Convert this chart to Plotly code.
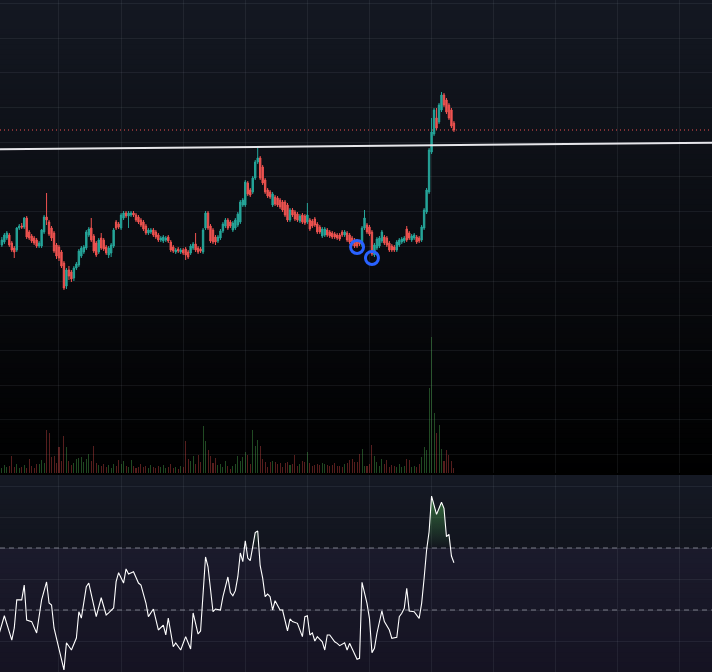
import plotly.graph_objects as go

# ---------------- data ----------------
bar_index = list(range(2, 185))  # 183 bars

open_ = [
    255, 258, 262, 265, 257, 252, 250, 272, 274, 273,
    282, 268, 264, 262, 260, 254, 254, 268, 283, 278,
    272, 267, 255, 253, 248, 237, 214, 230, 228, 222,
    232, 235, 244, 248, 252, 265, 272, 264, 257, 248,
    262, 260, 253, 245, 247, 254, 278, 276, 272, 282,
    287, 284, 285, 287, 285, 283, 280, 278, 274, 267,
    268, 270, 268, 265, 260, 259, 260, 263, 258, 253,
    248, 251, 248, 250, 251, 248, 247, 252, 256, 252,
    251, 248, 272, 287, 274, 270, 263, 259, 262, 269,
    274, 280, 278, 270, 272, 275, 278, 295, 295, 317,
    310, 308, 322, 338, 342, 333, 320, 310, 308, 295,
    303, 302, 300, 298, 298, 295, 280, 290, 288, 286,
    279, 285, 284, 278, 280, 279, 281, 276, 273, 264,
    265, 270, 268, 267, 266, 265, 265, 268, 265, 267,
    265, 262, 260, 259, 258, 255, 272, 275, 273, 268,
    245, 252, 254, 259, 263, 262, 257, 254, 253, 250,
    255, 258, 259, 271, 267, 260, 262, 263, 262, 260,
    272, 288, 308, 348, 366, 382, 378, 390, 405, 400,
    395, 390, 377,
]
high = [
    263, 267, 269, 267, 259, 254, 273, 276, 277, 283,
    284, 270, 266, 264, 262, 259, 271, 285, 307, 280,
    274, 269, 257, 255, 250, 239, 232, 234, 230, 234,
    238, 251, 254, 255, 270, 273, 282, 266, 259, 262,
    267, 262, 255, 254, 257, 272, 280, 278, 287, 289,
    289, 289, 289, 289, 287, 285, 282, 280, 276, 272,
    272, 272, 270, 267, 264, 265, 264, 265, 260, 255,
    252, 253, 252, 252, 253, 250, 256, 258, 267, 254,
    253, 272, 289, 289, 276, 272, 265, 265, 271, 278,
    282, 282, 280, 279, 282, 288, 300, 302, 320, 319,
    312, 324, 340, 354, 344, 335, 322, 312, 310, 308,
    305, 304, 302, 300, 300, 297, 292, 292, 290, 288,
    286, 287, 286, 297, 282, 281, 283, 278, 275, 273,
    273, 272, 270, 269, 268, 267, 267, 270, 270, 269,
    267, 264, 262, 261, 260, 274, 290, 277, 275, 270,
    257, 263, 264, 270, 265, 264, 259, 256, 255, 260,
    262, 263, 264, 274, 269, 266, 267, 265, 264, 275,
    292, 312, 352, 382, 392, 392, 397, 408, 407, 402,
    397, 392, 379,
]
low = [
    253, 256, 260, 253, 248, 242, 248, 270, 271, 271,
    261, 260, 257, 255, 252, 252, 252, 266, 275, 264,
    259, 247, 241, 239, 232, 210, 211, 220, 218, 219,
    230, 233, 242, 246, 250, 263, 258, 247, 243, 246,
    250, 249, 245, 242, 243, 252, 270, 271, 270, 280,
    282, 272, 283, 283, 278, 276, 273, 269, 265, 265,
    266, 263, 261, 258, 258, 257, 258, 257, 248, 247,
    246, 247, 246, 245, 240, 241, 245, 250, 248, 246,
    247, 246, 270, 270, 257, 256, 255, 257, 260, 267,
    272, 270, 272, 268, 270, 273, 276, 293, 293, 304,
    303, 306, 320, 336, 320, 315, 306, 302, 301, 293,
    294, 293, 291, 288, 283, 278, 278, 283, 279, 278,
    277, 276, 275, 276, 269, 272, 273, 266, 266, 262,
    263, 263, 262, 261, 261, 260, 259, 263, 263, 258,
    256, 254, 252, 252, 254, 253, 270, 266, 264, 244,
    243, 250, 252, 257, 255, 253, 248, 248, 248, 248,
    253, 256, 257, 258, 260, 258, 260, 256, 257, 258,
    270, 286, 306, 346, 364, 370, 376, 388, 393, 386,
    380, 372, 368,
]
close = [
    260, 265, 267, 255, 250, 248, 272, 274, 273, 282,
    263, 262, 259, 257, 254, 257, 270, 283, 280, 266,
    262, 249, 244, 242, 234, 212, 230, 224, 221, 232,
    236, 249, 252, 253, 268, 271, 260, 249, 245, 260,
    252, 251, 247, 252, 255, 270, 272, 273, 285, 287,
    284, 287, 287, 285, 280, 278, 275, 271, 267, 270,
    270, 265, 263, 260, 262, 263, 262, 259, 250, 249,
    250, 249, 250, 247, 245, 243, 254, 256, 250, 248,
    249, 270, 287, 272, 259, 258, 258, 263, 269, 276,
    280, 272, 274, 277, 280, 286, 298, 300, 318, 306,
    305, 322, 338, 342, 322, 317, 308, 304, 303, 306,
    296, 295, 293, 290, 285, 280, 290, 285, 281, 280,
    284, 278, 277, 285, 271, 274, 275, 268, 268, 271,
    271, 265, 264, 263, 263, 262, 261, 265, 268, 260,
    258, 256, 254, 254, 256, 272, 282, 268, 266, 246,
    255, 261, 262, 268, 257, 255, 250, 250, 250, 258,
    260, 261, 262, 260, 262, 264, 265, 258, 259, 273,
    290, 310, 350, 368, 390, 372, 395, 405, 395, 388,
    382, 374, 370,
]
volume = [
    5, 8, 6, 7, 17, 6, 9, 5, 6, 8,
    5, 14, 7, 5, 9, 9, 13, 10, 43, 40,
    16, 17, 10, 26, 12, 37, 26, 12, 8, 10,
    14, 15, 16, 11, 14, 19, 12, 27, 10, 8,
    7, 9, 6, 8, 5, 9, 7, 13, 9, 12,
    7, 6, 13, 7, 5, 6, 9, 6, 7, 5,
    8, 6, 5, 7, 6, 8, 5, 6, 9, 5,
    6, 4, 7, 6, 32, 14, 12, 17, 9, 18,
    11, 47, 32, 23, 17, 10, 15, 8, 9, 6,
    12, 7, 4, 7, 9, 17, 12, 16, 21, 18,
    9, 43, 27, 33, 27, 14, 11, 6, 11, 12,
    11, 9, 10, 6, 10, 11, 8, 9, 18, 7,
    9, 12, 11, 21, 10, 7, 8, 9, 8, 10,
    9, 8, 7, 8, 10, 7, 7, 6, 9, 10,
    13, 14, 11, 11, 19, 24, 7, 7, 9, 28,
    17, 11, 7, 14, 9, 13, 6, 8, 7, 6,
    9, 6, 7, 14, 13, 6, 7, 6, 9, 16,
    26, 23, 85, 136, 60, 40, 48, 24, 12, 23,
    18, 12, 5,
]

osc_index = [
    1, 3, 6, 7, 8, 10, 11, 12, 14, 16,
    18, 20, 21, 22, 23, 25, 27, 28, 30, 32,
    33, 34, 36, 37, 40, 42, 44, 45, 47, 48,
    49, 51, 52, 53, 55, 57, 58, 60, 61, 63,
    65, 67, 68, 69, 71, 72, 74, 76, 78, 79,
    81, 82, 84, 85, 87, 88, 90, 91, 93, 94,
    95, 96, 97, 98, 99, 100, 101, 102, 103, 104,
    105, 106, 107, 108, 109, 110, 111, 112, 114, 115,
    117, 118, 119, 121, 123, 124, 125, 126, 127, 128,
    129, 131, 132, 133, 134, 136, 137, 138, 140, 141,
    142, 144, 145, 146, 147, 149, 150, 151, 152, 153,
    155, 156, 158, 159, 161, 162, 163, 164, 165, 166,
    168, 170, 171, 172, 173, 174, 175, 177, 179, 180,
    181, 182, 183, 184,
]
osc_value = [
    15.2, 26.3, 10.6, 18.4, 36.5, 36.5, 46.1, 23.5, 22.5, 15.2,
    36.5, 48.1, 34.5, 33.2, 18.4, 5.5, -8.7, 8.9, 4.2, 11.9,
    28.9, 24.8, 45.0, 47.4, 25.7, 37.9, 26.8, 28.1, 31.3, 48.3,
    54.1, 47.4, 56.5, 53.2, 54.7, 47.4, 46.1, 34.5, 25.7, 30.6,
    17.1, 20.3, 13.9, 24.8, 6.3, 8.7, 4.2, 12.8, 4.8, 28.1,
    14.5, 16.5, 64.2, 57.9, 28.9, 30.6, 30.0, 38.6, 51.3, 41.2,
    39.2, 42.5, 51.5, 66.8, 61.2, 74.7, 63.5, 61.8, 71.9, 79.9,
    81.0, 58.6, 50.6, 38.6, 40.3, 38.6, 30.0, 36.0, 30.0, 30.0,
    16.6, 24.2, 22.5, 21.4, 12.8, 25.7, 26.3, 13.9, 15.2, 10.0,
    12.8, 9.5, 4.2, 13.9, 13.9, 9.5, 8.5, 7.0, 8.9, 4.2,
    8.5, 1.0, -1.8, -1.2, 47.9, 34.3, 24.6, 2.5, 5.3, 15.0,
    29.5, 22.5, 17.1, 11.7, 12.4, 25.7, 27.9, 31.1, 44.0, 29.4,
    28.9, 24.6, 34.3, 50.5, 68.7, 80.5, 103.5, 91.7, 99.5, 95.6,
    77.3, 78.8, 64.8, 60.5,
]
upper_level = 70
lower_level = 30

signal_index = [145, 151]
signal_price = [253, 242]

trend_index = [105, 176]
trend_price = [353.05, 354.7]

# ---------------- styling ----------------
UP = "#26a69a"
DOWN = "#ef5350"
GRID = "rgba(160,165,180,0.10)"
X_RANGE = [1.25, 287.9]
MAIN_RANGE = [27, 500]
OSC_RANGE = [-10, 117.1]
MAIN_DOMAIN = [0.29613, 1.0]
OSC_DOMAIN = [0.0, 0.29315]


def lerp(c0, c1, t):
    return "rgb(%d,%d,%d)" % tuple(round(a + (b - a) * t) for a, b in zip(c0, c1))


def gradient(xref, yref, top, bottom, n):
    out = []
    for j in range(n):
        t = (j + 0.5) / n
        y1 = 1 - j / n
        y0 = max(0.0, 1 - (j + 1) / n - 0.004)
        out.append(dict(type="rect", xref=xref, yref=yref, x0=0, x1=1, y0=y0, y1=y1,
                        fillcolor=lerp(top, bottom, t), line=dict(width=0), layer="below"))
    return out


fig = go.Figure()

# candles
fig.add_trace(go.Candlestick(
    x=bar_index, open=open_, high=high, low=low, close=close,
    increasing=dict(line=dict(color=UP, width=1), fillcolor=UP),
    decreasing=dict(line=dict(color=DOWN, width=1), fillcolor=DOWN),
    whiskerwidth=0, hoverinfo="skip", showlegend=False, xaxis="x", yaxis="y",
))

# volume overlay
vol_colors = ["rgba(76,175,80,0.42)" if c >= o else "rgba(239,83,80,0.36)" for o, c in zip(open_, close)]
fig.add_trace(go.Bar(
    x=bar_index, y=volume, marker=dict(color=vol_colors, line=dict(width=0)),
    width=0.42, hoverinfo="skip", showlegend=False, xaxis="x", yaxis="y3",
))

# trend line (extended across the view)
slope = (trend_price[1] - trend_price[0]) / (trend_index[1] - trend_index[0])
tx = [X_RANGE[0], X_RANGE[1]]
ty = [trend_price[0] + slope * (v - trend_index[0]) for v in tx]
fig.add_trace(go.Scatter(x=tx, y=ty, mode="lines", line=dict(color="#e6e6ea", width=2),
                         hoverinfo="skip", showlegend=False, xaxis="x", yaxis="y"))

# signal circles
fig.add_trace(go.Scatter(x=signal_index, y=signal_price, mode="markers",
                         marker=dict(symbol="circle-open", size=13, color="#2962ff",
                                     line=dict(width=3, color="#2962ff")),
                         hoverinfo="skip", showlegend=False, xaxis="x", yaxis="y"))

# oscillator overbought fill (clipped at upper level)
fx, fy = [], []
for j in range(len(osc_index)):
    xv, yv = osc_index[j], osc_value[j]
    if j > 0:
        xp, yp = osc_index[j - 1], osc_value[j - 1]
        if (yp - upper_level) * (yv - upper_level) < 0:
            xc = xp + (upper_level - yp) * (xv - xp) / (yv - yp)
            fx.append(xc)
            fy.append(upper_level)
    fx.append(xv)
    fy.append(max(yv, upper_level))
fig.add_trace(go.Scatter(x=fx, y=[upper_level] * len(fx), mode="lines", line=dict(width=0),
                         hoverinfo="skip", showlegend=False, xaxis="x2", yaxis="y2"))
fig.add_trace(go.Scatter(x=fx, y=fy, mode="lines", line=dict(width=0), fill="tonexty",
                         fillgradient=dict(type="vertical", start=upper_level, stop=100,
                                           colorscale=[[0, "rgba(76,175,80,0)"], [1, "rgba(76,175,80,0.5)"]]),
                         hoverinfo="skip", showlegend=False, xaxis="x2", yaxis="y2"))

# oscillator line
fig.add_trace(go.Scatter(x=osc_index, y=osc_value, mode="lines",
                         line=dict(color="#ffffff", width=1.1),
                         hoverinfo="skip", showlegend=False, xaxis="x2", yaxis="y2"))

shapes = []
shapes += gradient("x domain", "y domain", (20, 24, 34), (0, 0, 0), 95)
shapes += gradient("x2 domain", "y2 domain", (21, 25, 36), (12, 13, 19), 40)
# oscillator band background
shapes.append(dict(type="rect", xref="x2 domain", yref="y2", x0=0, x1=1,
                   y0=OSC_RANGE[0], y1=upper_level, fillcolor="rgba(126,87,194,0.09)",
                   line=dict(width=0), layer="below"))
# level lines
for lvl in (upper_level, lower_level):
    shapes.append(dict(type="line", xref="x2 domain", yref="y2", x0=0, x1=1, y0=lvl, y1=lvl,
                       line=dict(color="#787b86", width=1, dash="5px,4px"), layer="below"))
# last price line
shapes.append(dict(type="line", xref="x domain", yref="y", x0=0, x1=1, y0=close[-1], y1=close[-1],
                   line=dict(color="#ef5350", width=1, dash="1px,3px"), layer="below"))

axis_common = dict(showticklabels=False, zeroline=False, showline=False, ticks="",
                   showgrid=True, gridcolor=GRID, gridwidth=1)

fig.update_layout(
    width=712, height=672,
    margin=dict(l=0, r=0, t=0, b=0),
    paper_bgcolor="#000000", plot_bgcolor="rgba(0,0,0,0)",
    showlegend=False, boxgap=0.2, bargap=0,
    hovermode=False,
    shapes=shapes,
    xaxis=dict(domain=[0, 1], range=X_RANGE, anchor="y", tick0=0, dtick=25,
               rangeslider=dict(visible=False), **axis_common),
    yaxis=dict(domain=MAIN_DOMAIN, range=MAIN_RANGE, anchor="x", tick0=219, dtick=34.7, **axis_common),
    yaxis3=dict(domain=MAIN_DOMAIN, range=[0, 473], overlaying="y", anchor="x", visible=False),
    xaxis2=dict(domain=[0, 1], range=X_RANGE, anchor="y2", matches="x", tick0=0, dtick=25, **axis_common),
    yaxis2=dict(domain=OSC_DOMAIN, range=OSC_RANGE, anchor="x2", tick0=10, dtick=20, **axis_common),
)

fig.write_html("out.html", config=dict(staticPlot=True),
               post_script="document.body.style.margin='0';document.body.style.padding='0';"
                           "document.body.style.background='#000';")
